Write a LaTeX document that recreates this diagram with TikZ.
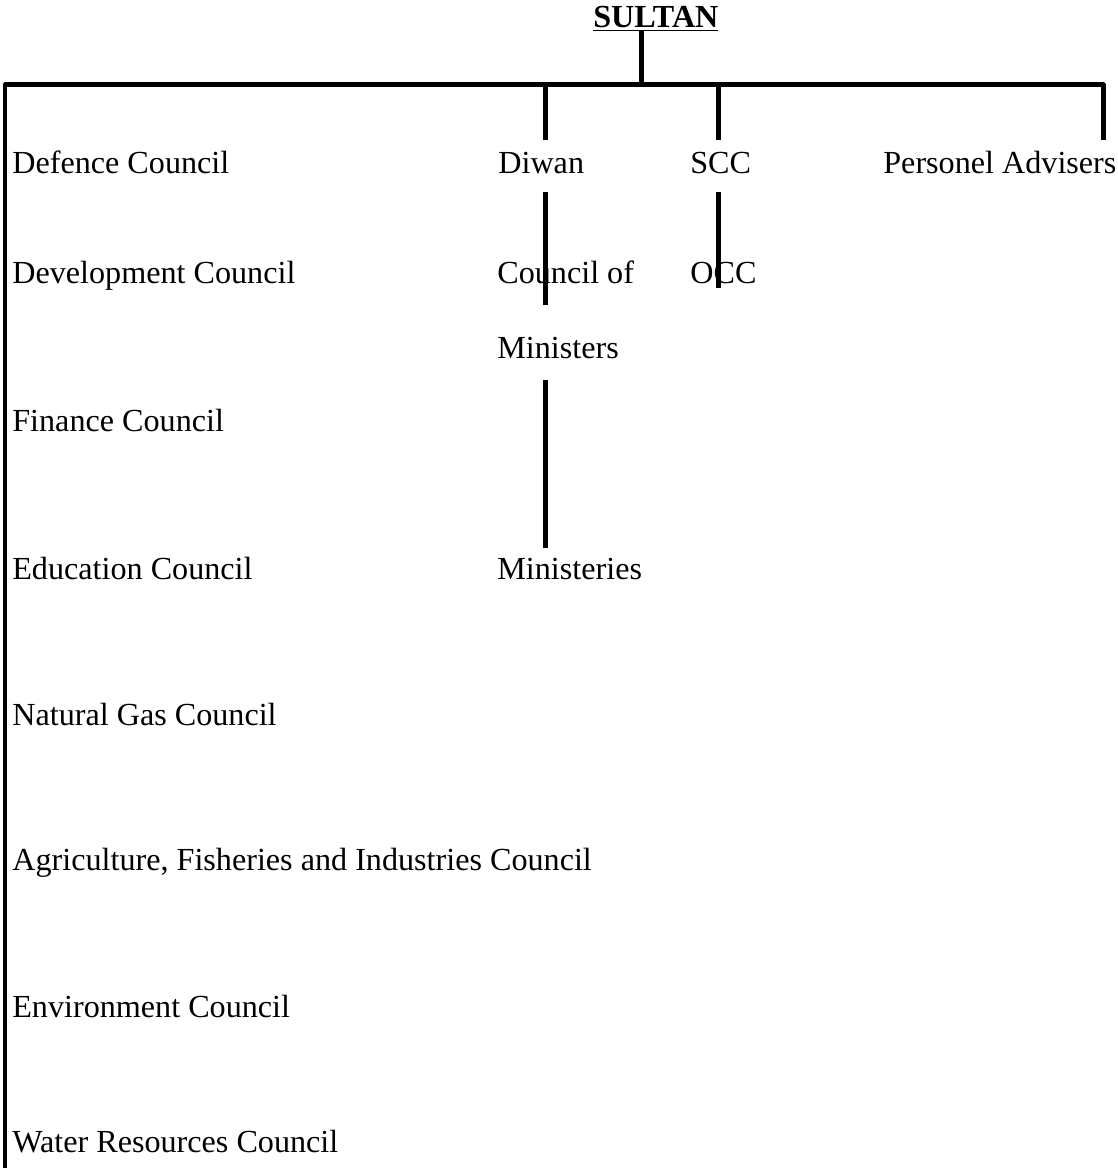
\documentclass[tikz,border=0pt]{standalone}
\usepackage{fontspec}
\setmainfont{Liberation Serif}
\usepackage{tikz}

\tikzset{
  lbl/.style={anchor=base west, inner sep=0pt, font=\fontsize{18.3}{22}\selectfont},
  link/.style={line width=0.1cm, black}
}

\begin{document}
\begin{tikzpicture}[x=0.02cm, y=-0.02cm]
  \useasboundingbox (0,0) rectangle (1117,1168);

  % Sultan
  \node[lbl, font=\fontsize{18.3}{22}\selectfont\bfseries] (sultan) at (593,28) {\underline{SULTAN}};
  \coordinate (stem) at (641,31);
  \coordinate (hub) at (641,85);
  \draw[link] (stem) -- (hub);

  % Main branch line
  \coordinate (leftend) at (5,1168);
  \coordinate (rightend) at (1103,140);
  \draw[link, line join=round] (leftend) -- (5,85) -- (1103,85) -- (rightend);
  \draw[link] (545,85) -- (545,140);
  \draw[link] (718,85) -- (718,140);

  % Councils
  \node[lbl] (defence) at (12,174) {Defence Council};
  \node[lbl] (develop) at (12,284) {Development Council};
  \node[lbl] (finance) at (12,432) {Finance Council};
  \node[lbl] (educ) at (12,579) {Education Council};
  \node[lbl] (gas) at (12,725) {Natural Gas Council};
  \node[lbl] (agri) at (12,870) {Agriculture, Fisheries and Industries Council};
  \node[lbl] (envir) at (12,1017) {Environment Council};
  \node[lbl] (water) at (12,1152) {Water Resources Council};

  % Top row
  \node[lbl] (diwan) at (498,174) {Diwan};
  \node[lbl] (scc) at (690,174) {SCC};
  \node[lbl] (advisers) at (883,174) {Personel Advisers};

  % Under Diwan and SCC
  \node[lbl] (council) at (497,284) {Council of};
  \node[lbl] (ministers) at (497,359) {Ministers};
  \node[lbl] (occ) at (690,284) {OCC};
  \node[lbl] (ministries) at (497,579) {Ministeries};

  \coordinate (d1) at (545,192);
  \coordinate (d2) at (545,305);
  \draw[link] (d1) -- (d2);
  \coordinate (s1) at (718,192);
  \coordinate (s2) at (718,288);
  \draw[link] (s1) -- (s2);
  \coordinate (m1) at (545,380);
  \coordinate (m2) at (545,548);
  \draw[link] (m1) -- (m2);
\end{tikzpicture}
\end{document}
